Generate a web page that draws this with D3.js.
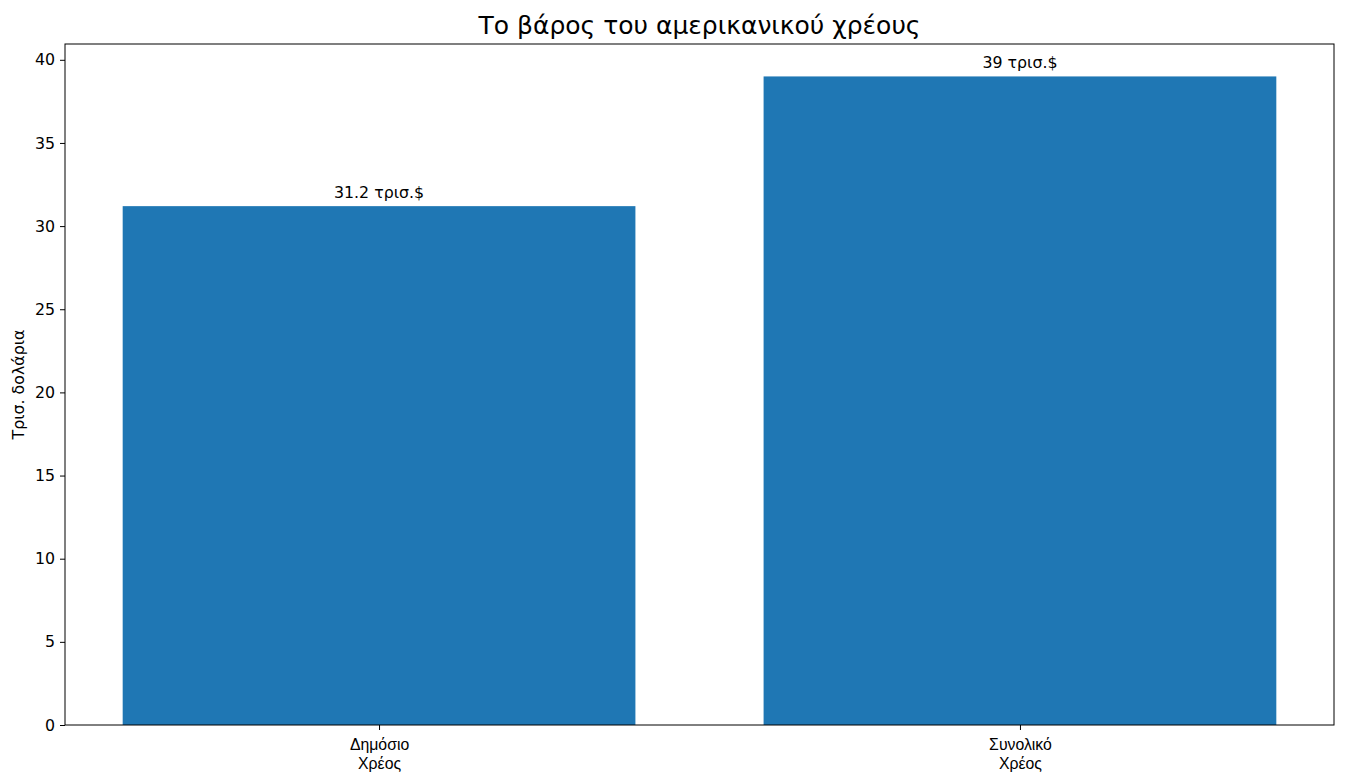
<!DOCTYPE html>
<html>
<head>
<meta charset="utf-8">
<script src="https://cdn.jsdelivr.net/npm/d3@7"></script>
<style>
  body { margin: 0; background: #fff; }
  svg { font-family: "DejaVu Sans", sans-serif; }
</style>
</head>
<body>
<svg id="chart" width="1349" height="775"></svg>
<script>
// data
var categories = ["Δημόσιο\nΧρέος", "Συνολικό\nΧρέος"];
var values = [31.2, 39];
var barLabels = ["31.2 τρισ.$", "39 τρισ.$"];
var yTicks = [0, 5, 10, 15, 20, 25, 30, 35, 40];

var width = 1349, height = 775;
var margin = {top: 44, right: 15, bottom: 50, left: 65};
var innerW = width - margin.left - margin.right;
var innerH = height - margin.top - margin.bottom;
var fs = 15.8;

var svg = d3.select("#chart");
var g = svg.append("g").attr("transform", "translate(" + margin.left + "," + margin.top + ")");

// matplotlib-style positions: bars at 0,1 with width 0.8
var xScale = d3.scaleLinear().domain([-0.49, 1.49]).range([0, innerW]);
var yScale = d3.scaleLinear().domain([0, 40.95]).range([innerH, 0]);
var barW = 0.8;

g.selectAll("rect.bar")
    .data(values)
    .enter()
    .append("rect")
    .attr("class", "bar")
    .attr("x", function (d, i) { return xScale(i - barW / 2); })
    .attr("width", function () { return xScale(barW) - xScale(0); })
    .attr("y", function (d) { return yScale(d); })
    .attr("height", function (d) { return innerH - yScale(d); })
    .attr("fill", "#1f77b4");

// value labels
g.selectAll("text.val")
    .data(values)
    .enter()
    .append("text")
    .attr("class", "val")
    .attr("x", function (d, i) { return xScale(i); })
    .attr("y", function (d) { return yScale(d) - 8; })
    .attr("text-anchor", "middle")
    .attr("font-size", fs)
    .attr("fill", "black")
    .text(function (d, i) { return barLabels[i]; });

// y axis
var yAxis = d3.axisLeft(yScale).tickValues(yTicks).tickSize(5).tickPadding(5);
var yg = g.append("g").call(yAxis);
yg.select(".domain").remove();
yg.selectAll("text").attr("font-size", fs).attr("font-family", "DejaVu Sans").attr("fill", "black");
yg.selectAll("line").attr("stroke", "black");

// x axis
var xAxis = d3.axisBottom(xScale).tickValues([0, 1]).tickSize(5).tickFormat("");
var xg = g.append("g").attr("transform", "translate(0," + innerH + ")").call(xAxis);
xg.select(".domain").remove();
xg.selectAll("line").attr("stroke", "black");
xg.selectAll(".tick").each(function (d) {
    var lines = categories[d].split("\n");
    var t = d3.select(this).append("text")
        .attr("y", 25)
        .attr("text-anchor", "middle")
        .attr("font-size", fs)
        .attr("fill", "black");
    lines.forEach(function (l, k) {
        t.append("tspan").attr("x", 0).attr("dy", k === 0 ? 0 : 18.5).text(l);
    });
});

// frame
g.append("rect")
    .attr("x", 0).attr("y", 0)
    .attr("width", innerW).attr("height", innerH)
    .attr("fill", "none")
    .attr("stroke", "black")
    .attr("stroke-width", 1);

// y label
svg.append("text")
    .attr("transform", "translate(24," + (margin.top + innerH / 2) + ") rotate(-90)")
    .attr("text-anchor", "middle")
    .attr("font-size", fs)
    .attr("fill", "black")
    .text("Τρισ. δολάρια");

// title
svg.append("text")
    .attr("x", margin.left + innerW / 2)
    .attr("y", 34)
    .attr("text-anchor", "middle")
    .attr("font-size", 25)
    .attr("fill", "black")
    .text("Το βάρος του αμερικανικού χρέους");
</script>
</body>
</html>
